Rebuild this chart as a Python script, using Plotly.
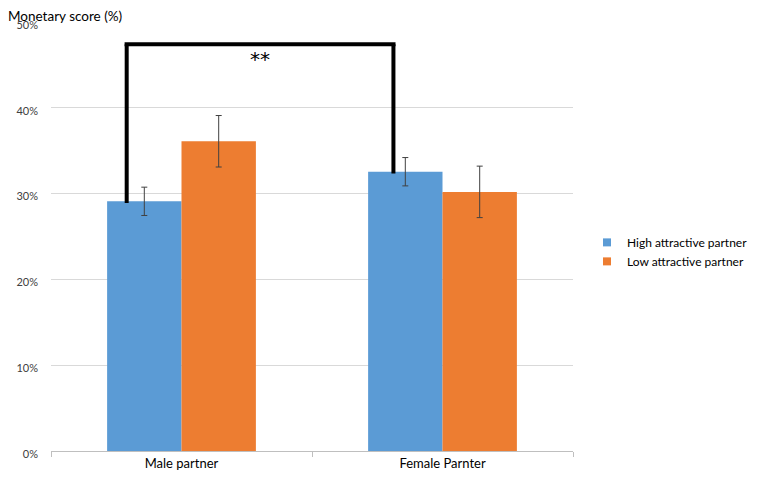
import plotly.graph_objects as go

categories = ["Male partner", "Female Parnter"]
high_vals = [29.1, 32.55]
high_err = [1.65, 1.65]
low_vals = [36.1, 30.2]
low_err = [3.0, 3.0]
series_names = ["High attractive partner", "Low attractive partner"]
y_ticks = [0, 10, 20, 30, 40, 50]
y_tick_labels = ["0%", "10%", "20%", "30%", "40%", "50%"]
bracket_level = 47.4
bracket_drop = 0.2
signif_label = "**"

BLUE = "#5B9BD5"
ORANGE = "#ED7D31"
FONT = "Lato"

fig = go.Figure()
for name, vals, errs, col in [(series_names[0], high_vals, high_err, BLUE),
                              (series_names[1], low_vals, low_err, ORANGE)]:
    fig.add_trace(go.Bar(
        x=categories, y=vals, name=name, marker=dict(color=col, line=dict(width=0)),
        error_y=dict(type="data", array=errs, color="#404040", thickness=1, width=3),
        showlegend=False,
    ))
    fig.add_trace(go.Scatter(
        x=[None], y=[None], mode="markers", name=name,
        marker=dict(symbol="square", size=8, color=col),
    ))

# significance bracket
xl = -0.21
xr = 1 - 0.188
lw = 4
fig.add_shape(type="line", xref="x", yref="y", x0=xl, x1=xl, y0=high_vals[0] - bracket_drop, y1=bracket_level,
              line=dict(color="black", width=lw))
fig.add_shape(type="line", xref="x", yref="y", x0=xr, x1=xr, y0=high_vals[1] - bracket_drop, y1=bracket_level,
              line=dict(color="black", width=lw))
fig.add_shape(type="line", xref="x", yref="y", x0=xl - 0.008, x1=xr + 0.008, y0=bracket_level, y1=bracket_level,
              line=dict(color="black", width=lw))
fig.add_annotation(x=0.3, y=bracket_level - 0.1, xref="x", yref="y", text=signif_label,
                   showarrow=False, yanchor="top", font=dict(size=20, color="black", family="DejaVu Sans"))

fig.add_annotation(x=0, xref="paper", xshift=-44, xanchor="left", y=1, yref="paper", yshift=15,
                   yanchor="top", text="Monetary score (%)", showarrow=False, borderpad=0,
                   font=dict(size=13.5, color="#000000", family=FONT))

fig.update_layout(
    width=749, height=469,
    margin=dict(l=43, r=184, t=14, b=26, autoexpand=False),
    plot_bgcolor="white", paper_bgcolor="white",
    barmode="group", bargap=0.43, bargroupgap=0,
    font=dict(family=FONT, size=12, color="#404040"),
    legend=dict(xref="container", x=0.773, xanchor="left", yref="container", y=0.48, yanchor="middle",
                font=dict(size=12, color="#000000"), itemwidth=30),
    xaxis=dict(type="category", showline=True, linecolor="#BFBFBF", linewidth=1,
               ticks="outside", tickson="boundaries", ticklen=5, tickcolor="#BFBFBF",
               tickfont=dict(size=13, color="#000000"), showgrid=False, range=[-0.5, 1.5]),
    yaxis=dict(range=[0, 50], tickvals=y_ticks, ticktext=y_tick_labels,
               showgrid=True, gridcolor="#D9D9D9", gridwidth=1, zeroline=False,
               showline=False, ticks="", tickfont=dict(size=11, color="#404040"),
               ticklabelstandoff=12, ticklabelshift=3),
)

fig.write_html("out.html")
